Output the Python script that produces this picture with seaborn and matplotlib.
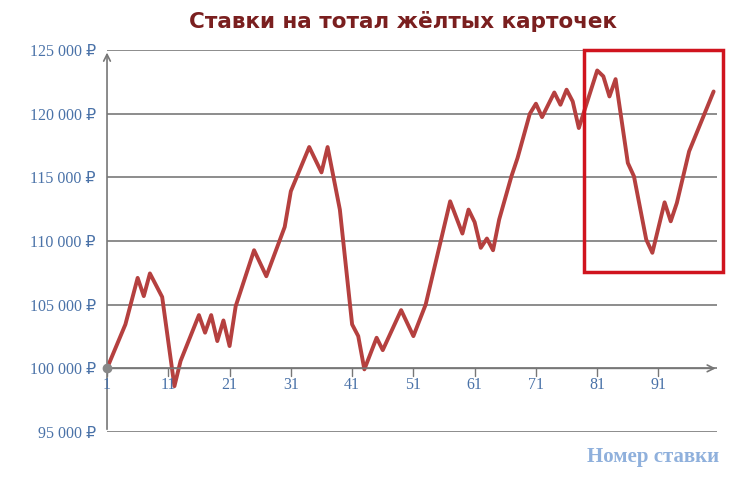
import matplotlib
matplotlib.use("Agg")
import matplotlib.pyplot as plt
import seaborn as sns
import pandas as pd
from matplotlib.patches import Rectangle

# Вершины ломаной (номер ставки, ставка в рублях)
nomer = [1, 4, 6, 7, 8, 10, 12, 13, 16, 17, 18, 19, 20, 21, 22, 25, 27, 30, 31, 34,
         36, 37, 39, 41, 42, 43, 45, 46, 49, 51, 53, 57, 59, 60, 61, 62, 63, 64, 65, 67,
         68, 70, 71, 72, 74, 75, 76, 77, 78, 81, 82, 83, 84, 86, 87, 89, 90, 92, 93, 94,
         96, 100]
stavka = [100000, 103450, 107100, 105670, 107450, 105600, 98600, 100570, 104180, 102800,
          104180, 102140, 103760, 101750, 104880, 109270, 107230, 111100, 113900, 117370,
          115380, 117370, 112460, 103450, 102530, 99920, 102400, 101430, 104570, 102530,
          105000, 113110, 110580, 112460, 111470, 109460, 110190, 109270, 111680, 115070,
          116510, 119980, 120770, 119720, 121650, 120690, 121870, 120950, 118860, 123380,
          122920, 121340, 122700, 116120, 115070, 110110, 109070, 113030, 111540, 112980,
          117030, 121730]
y_ticks = [95000, 100000, 105000, 110000, 115000, 120000, 125000]
x_ticks = [1, 11, 21, 31, 41, 51, 61, 71, 81, 91]

df = pd.DataFrame({"nomer": nomer, "stavka": stavka})

sns.set_theme(style="white")
serif = ["Liberation Serif", "DejaVu Sans"]
fig = plt.figure(figsize=(7.3, 4.79), dpi=100)
ax = fig.add_axes([0.1466, 0.098, 0.836, 0.798])

for y in y_ticks:
    ax.axhline(y, color="#6e6e6e", lw=1.1, zorder=1)

sns.lineplot(data=df, x="nomer", y="stavka", color="#b5403f", lw=2.8, ax=ax, zorder=3)

ax.set_xlim(1, 100.6)
ax.set_ylim(95000, 125000)
for s in ax.spines.values():
    s.set_visible(False)

# оси со стрелками
ax.annotate("", xy=(1, 125000), xytext=(1, 95000),
            arrowprops=dict(arrowstyle="->", color="#777777", lw=1.2), annotation_clip=False)
ax.annotate("", xy=(100.8, 100000), xytext=(1, 100000),
            arrowprops=dict(arrowstyle="->", color="#777777", lw=1.2), annotation_clip=False)
ax.plot([1], [100000], "o", color="#888888", ms=6, zorder=4, clip_on=False)

blue = "#4a72a8"
ax.set_yticks(y_ticks)
ax.set_yticklabels([f"{v // 1000} 000 ₽" for v in y_ticks], family=serif,
                   fontsize=11.5, color=blue)
ax.tick_params(axis="y", length=0, pad=8)
ax.set_xticks([])
for x in x_ticks:
    ax.plot([x, x], [100000, 99400], color="#777777", lw=1, zorder=2)
    ax.text(x, 99300, str(x), ha="center", va="top", family=serif,
            fontsize=11.5, color=blue)
ax.set_xlabel("")
ax.set_ylabel("")

ax.add_patch(Rectangle((78.8, 107600), 22.8, 17400, fill=False, edgecolor="#d0141e",
                       lw=2.5, clip_on=False, zorder=5))

fig.text(0.552, 0.955, "Ставки на тотал жёлтых карточек", ha="center", va="center",
         fontsize=15.5, fontweight="bold", color="#7a1f1f", family="DejaVu Sans")
fig.text(0.985, 0.045, "Номер ставки", ha="right", va="center", fontsize=15,
         fontweight="bold", color="#8fb0dc", family="Liberation Serif")

fig.savefig("out.png", dpi=100)
